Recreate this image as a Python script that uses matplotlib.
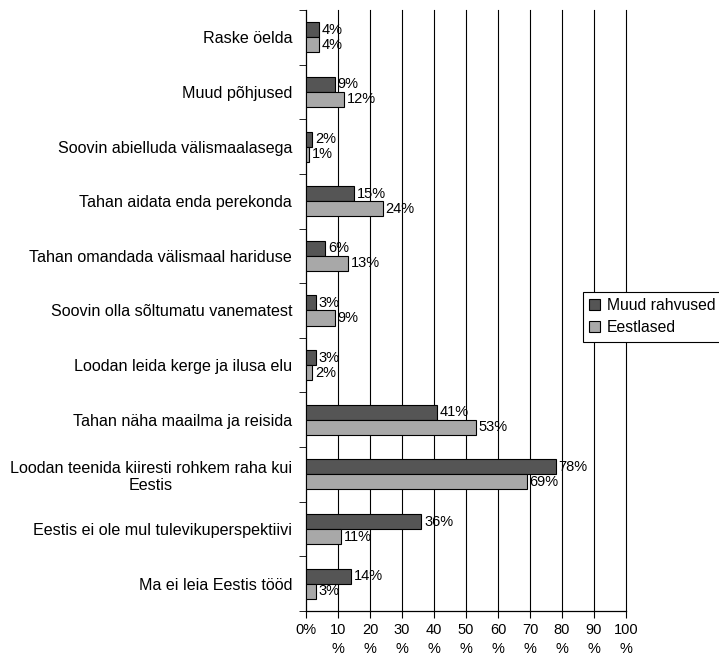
import numpy as np
import matplotlib
matplotlib.use('Agg')
import matplotlib.pyplot as plt

plt.rcParams['font.family'] = ['Liberation Sans', 'DejaVu Sans']

categories = [
    'Raske öelda',
    'Muud põhjused',
    'Soovin abielluda välismaalasega',
    'Tahan aidata enda perekonda',
    'Tahan omandada välismaal hariduse',
    'Soovin olla sõltumatu vanematest',
    'Loodan leida kerge ja ilusa elu',
    'Tahan näha maailma ja reisida',
    'Loodan teenida kiiresti rohkem raha kui\nEestis',
    'Eestis ei ole mul tulevikuperspektiivi',
    'Ma ei leia Eestis tööd',
]
muud = [4, 9, 2, 15, 6, 3, 3, 41, 78, 36, 14]
eestlased = [4, 12, 1, 24, 13, 9, 2, 53, 69, 11, 3]
xticks = list(range(0, 101, 10))
xlabels = ['0%'] + [f'{t}\n%' for t in xticks[1:]]

fig = plt.figure(figsize=(7.19, 6.56), dpi=100)
ax = fig.add_axes([306 / 719, 1 - 611 / 656, 320 / 719, 601 / 656])

y = np.arange(len(categories))
h = 0.275
b1 = ax.barh(y - h / 2, muud, height=h, color='#555555', edgecolor='black',
             linewidth=0.8, label='Muud rahvused', zorder=3)
b2 = ax.barh(y + h / 2, eestlased, height=h, color='#a8a8a8', edgecolor='black',
             linewidth=0.8, label='Eestlased', zorder=3)
for bars, vals in [(b1, muud), (b2, eestlased)]:
    for bar, v in zip(bars, vals):
        ax.annotate(f'{v}%', (bar.get_width(), bar.get_y() + bar.get_height() / 2),
                    xytext=(2, 0), textcoords='offset points', va='center',
                    ha='left', fontsize=10.5, zorder=4)

ax.set_xlim(0, 100)
ax.set_ylim(len(categories) - 0.5, -0.5)
ax.set_xticks(xticks)
ax.set_xticklabels(xlabels, fontsize=10.5, linespacing=1.45)
ax.set_yticks(y, minor=False)
ax.set_yticklabels(categories, fontsize=11.6)
ax.set_yticks(np.arange(-0.5, len(categories)), minor=True)
ax.tick_params(axis='y', which='major', length=0, pad=10)
ax.tick_params(axis='y', which='minor', length=5, direction='out')
ax.tick_params(axis='x', length=5, direction='out')
for lbl in ax.get_yticklabels():
    lbl.set_multialignment('center')

for t in xticks[1:]:
    ax.axvline(t, color='black', linewidth=0.8, zorder=1, clip_on=False)
ax.spines['top'].set_visible(False)
ax.spines['right'].set_visible(False)
for s in ['left', 'bottom']:
    ax.spines[s].set_linewidth(0.9)

leg = fig.legend(loc='upper left', bbox_to_anchor=(583 / 719, 1 - 292 / 656),
                 fontsize=11.3, fancybox=False, framealpha=1, edgecolor='black',
                 handlelength=0.7, handleheight=0.7, handletextpad=0.4,
                 borderpad=0.4, labelspacing=0.45, borderaxespad=0)
leg.get_frame().set_linewidth(0.8)

fig.savefig('out.png', dpi=100)
